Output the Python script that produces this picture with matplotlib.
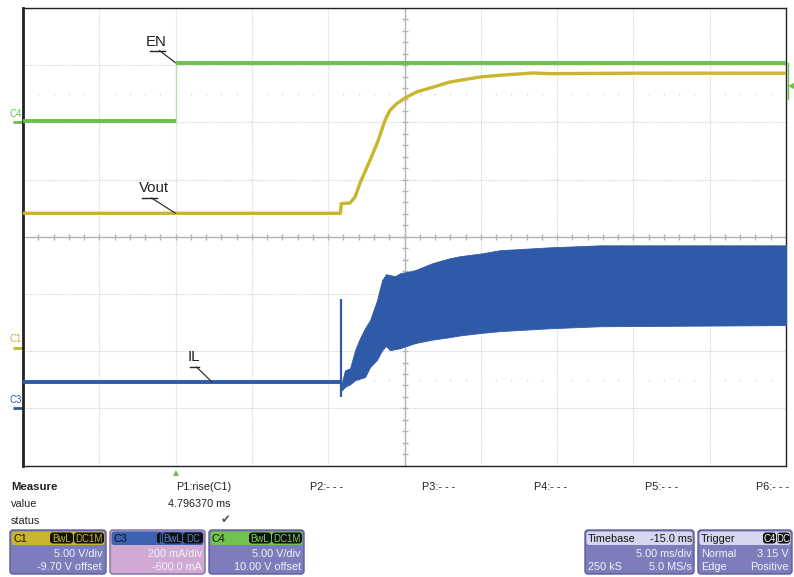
import numpy as np
import matplotlib
matplotlib.use("Agg")
import matplotlib.pyplot as plt
from matplotlib.patches import FancyBboxPatch
from matplotlib.transforms import blended_transform_factory

plt.rcParams['font.family'] = ['Liberation Sans', 'DejaVu Sans']

# channel settings (scale per div, offset) as shown on the scope
ms_per_div = 5.0
t_left = -10.0          # trigger sits 2 div from the left edge
c1_scale, c1_offset = 5.0, -9.70     # Vout  [V]
c3_scale, c3_offset = 0.2, -0.600    # IL    [A]
c4_scale, c4_offset = 5.0, 10.00     # EN    [V]
trig_level = 3.15

# EN (C4)
en_t = [-10, 0, 0, 40]
en_v = [0.1, 0.1, 5.2, 5.2]

# Vout (C1)
vout_t = [-10, 10.81, 10.85, 11.43, 11.76, 12.08, 12.74, 13.28, 13.72, 14.05,
          14.49, 15.14, 15.80, 16.89, 17.98, 19.95, 21.26, 23.42, 24.53, 30.0, 40.0]
vout_v = [11.75, 11.75, 12.60, 12.65, 13.18, 14.38, 16.39, 18.13, 19.88, 20.76,
          21.34, 21.92, 22.36, 22.79, 23.23, 23.67, 23.82, 24.02, 23.96, 24.0, 24.0]

# IL (C3): flat part, start-up spike, then switching ripple envelope
il_flat_t = [-10, 10.9]
il_flat_a = [0.091, 0.091]
il_spike_t = 10.81
il_spike_lo, il_spike_hi = 0.039, 0.381
il_env_t = [10.90, 11.10, 11.43, 11.76, 12.08, 12.41, 12.74, 13.20, 13.53, 13.79, 14.05,
            14.38, 14.70, 15.69, 16.80, 17.98, 18.64, 20.08, 21.26, 24.53, 27.81, 40.0]
il_hi = [0.091, 0.133, 0.140, 0.203, 0.245, 0.280, 0.308, 0.378, 0.448, 0.469, 0.466,
         0.462, 0.472, 0.483, 0.507, 0.525, 0.532, 0.542, 0.553, 0.563, 0.570, 0.570]
il_lo = [0.063, 0.075, 0.084, 0.098, 0.104, 0.109, 0.144, 0.170, 0.203, 0.218, 0.203,
         0.207, 0.210, 0.228, 0.240, 0.249, 0.255, 0.264, 0.270, 0.280, 0.287, 0.291]

GREEN = '#6cbf48'
YELLOW = '#c9b52e'
BLUE = '#2f5aa8'


def to_div(vals, scale, offset):
    return (np.asarray(vals, dtype=float) + offset) / scale


fig = plt.figure(figsize=(7.94, 5.77), dpi=100)
W, H = 794, 577
ax = fig.add_axes([23 / W, 1 - 465.5 / H, 763 / W, 457.5 / H])
ax.set_xlim(t_left, t_left + 10 * ms_per_div)
ax.set_ylim(-4, 4)
ax.set_xticks(np.arange(t_left, t_left + 10 * ms_per_div + 0.1, ms_per_div))
ax.set_yticks(np.arange(-4, 5, 1))
ax.tick_params(length=0, labelbottom=False, labelleft=False)
ax.grid(True, color='#cdcdcd', lw=0.8, ls=(0, (1, 1.2)))
for s in ax.spines.values():
    s.set_color('#222222')
    s.set_linewidth(1.0)
ax.spines['left'].set_linewidth(2)

# centre cross with sub-division ticks
t_mid = t_left + 5 * ms_per_div
ax.axhline(0, color='#b4b4b4', lw=1)
ax.axvline(t_mid, color='#b4b4b4', lw=1)
sub_t = np.arange(t_left, t_left + 10 * ms_per_div + 0.01, ms_per_div / 5)
sub_y = np.arange(-4, 4.01, 0.2)
ax.plot(sub_t, np.zeros_like(sub_t), '|', color='#b4b4b4', ms=4.5, mew=1)
ax.plot(np.full_like(sub_y, t_mid), sub_y, '_', color='#b4b4b4', ms=4.5, mew=1)
dots_t = sub_t[np.abs(np.round(sub_t / ms_per_div) * ms_per_div - sub_t) > 1e-6]
for yy in (2.5, -2.5):
    ax.plot(dots_t, np.full_like(dots_t, yy), 's', color='#cfcfcf', ms=1.0, mew=0)

# traces
vout_d = to_div(vout_v, c1_scale, c1_offset)
ax.plot(vout_t, vout_d, color=YELLOW, lw=2.4, solid_capstyle='butt', zorder=3)

en_d = to_div(en_v, c4_scale, c4_offset)
ax.plot(en_t[1:3], en_d[1:3], color='#b8e2a4', lw=1.0, zorder=4)
ax.plot(en_t[:2], en_d[:2], color=GREEN, lw=2.8, solid_capstyle='butt', zorder=4)
ax.plot(en_t[2:], en_d[2:], color=GREEN, lw=2.8, solid_capstyle='butt', zorder=4)

ax.plot(il_flat_t, to_div(il_flat_a, c3_scale, c3_offset), color=BLUE, lw=2.8,
        solid_capstyle='butt', zorder=3)
ax.vlines(il_spike_t, to_div(il_spike_lo, c3_scale, c3_offset),
          to_div(il_spike_hi, c3_scale, c3_offset), color=BLUE, lw=1.6, zorder=3)
ax.fill_between(il_env_t, to_div(il_lo, c3_scale, c3_offset),
                to_div(il_hi, c3_scale, c3_offset), color=BLUE, lw=0.6,
                edgecolor=BLUE, zorder=3)

# overlay in pixel coordinates for labels and the bottom panel
ov = fig.add_axes([0, 0, 1, 1], zorder=5)
ov.set_xlim(0, W)
ov.set_ylim(H, 0)
ov.axis('off')


# trace labels with leader lines
def tag(text, tx, ty, ux0, ux1, uy, xy):
    ov.text(tx, ty, text, fontsize=10.8, color='#222222', ha='center', va='center')
    ov.plot([ux0, ux1], [uy, uy], color='#222222', lw=1)
    ax.annotate('', xy=xy, xycoords='data', xytext=((ux0 + ux1) / 2 + 2, uy),
                textcoords=ov.transData, annotation_clip=False,
                arrowprops=dict(arrowstyle='-', color='#333333', lw=0.9,
                                shrinkA=0, shrinkB=0))


tag('EN', 156, 42, 150, 165, 50.5, (0, en_d[2]))
tag('Vout', 154, 188, 142, 157, 198, (0, vout_d[0]))
tag('IL', 194, 357, 190, 199, 367, (2.4, to_div(il_flat_a[0], c3_scale, c3_offset)))

# channel ground markers on the left, trigger level on the right
bl = blended_transform_factory(ov.transData, ax.transData)
for name, col, off, sc in (('C4', GREEN, c4_offset, c4_scale),
                           ('C1', YELLOW, c1_offset, c1_scale),
                           ('C3', BLUE, c3_offset, c3_scale)):
    y0 = off / sc
    ax.plot([13, 23], [y0, y0], color=col, lw=2, transform=bl, clip_on=False,
            solid_capstyle='butt')
    ax.text(16, y0 + 0.06, name, color=col, fontsize=7, ha='center',
            va='bottom', transform=bl)
ax.plot([790.5], [to_div(trig_level, c4_scale, c4_offset)], '<', color=GREEN,
        ms=5, mew=0, transform=bl, clip_on=False)
ax.plot([788, 788], [en_d[2], to_div(trig_level, c4_scale, c4_offset) - 0.22],
        color=GREEN, lw=1, transform=bl, clip_on=False)

# trigger position marker under the grid
ax.plot([0], [473], '^', color=GREEN, ms=5, mew=0,
        transform=blended_transform_factory(ax.transData, ov.transData),
        clip_on=False)

# measure table
fs = 7.8
ov.text(11, 487, 'Measure', fontsize=8.2, fontweight='bold', va='center', color='#222222')
ov.text(11, 504, 'value', fontsize=fs, va='center', color='#222222')
ov.text(11, 521, 'status', fontsize=fs, va='center', color='#222222')
ov.text(231, 487, 'P1:rise(C1)', fontsize=fs, va='center', ha='right', color='#222222')
ov.text(231, 504, '4.796370 ms', fontsize=fs, va='center', ha='right', color='#222222')
ov.text(226, 520, '\u2714', fontsize=8.5, va='center', ha='center', color='#555555',
        family=['DejaVu Sans'])
for lab, x in (('P2:- - -', 310), ('P3:- - -', 422), ('P4:- - -', 534),
               ('P5:- - -', 645), ('P6:- - -', 756)):
    ov.text(x, 487, lab, fontsize=fs, va='center', color='#222222')


def box(x0, x1, head_col, body_col, edge='#5c5c98'):
    ov.add_patch(FancyBboxPatch((x0, 530), x1 - x0, 44,
                                boxstyle='round,pad=0,rounding_size=3',
                                fc=body_col, ec=edge, lw=1))
    ov.add_patch(FancyBboxPatch((x0 + 1.5, 531.5), x1 - x0 - 3, 13.5,
                                boxstyle='round,pad=0,rounding_size=2.5',
                                fc=head_col, ec='none'))


def badge(x0, x1, text, col):
    ov.add_patch(FancyBboxPatch((x0, 532.5), x1 - x0, 11,
                                boxstyle='round,pad=0,rounding_size=3',
                                fc='#111111', ec='none'))
    ov.text((x0 + x1) / 2, 538.5, text, fontsize=7, color=col,
            ha='center', va='center')


BODY = '#7d7dbb'
WHITE = '#f2f2fa'
box(10, 106, YELLOW, BODY)
ov.text(13, 538.5, 'C1', fontsize=fs, va='center', color='#111111')
badge(50, 73, 'BwL', YELLOW)
badge(74, 104, 'DC1M', YELLOW)
ov.text(102, 554, '5.00 V/div', fontsize=fs, va='center', ha='right', color=WHITE)
ov.text(102, 567, '-9.70 V offset', fontsize=fs, va='center', ha='right', color=WHITE)

box(110, 205, '#3c62b2', '#d0aad2', edge='#7c6ca8')
ov.text(113, 538.5, 'C3', fontsize=fs, va='center', color='#111111')
badge(157, 162, '|', '#5a82d0')
badge(163, 182, 'BwL', '#5a82d0')
badge(183, 203, 'DC', '#5a82d0')
ov.text(202, 554, '200 mA/div', fontsize=fs, va='center', ha='right', color=WHITE)
ov.text(202, 567, '-600.0 mA', fontsize=fs, va='center', ha='right', color=WHITE)

box(209, 304, '#72c24e', BODY)
ov.text(212, 538.5, 'C4', fontsize=fs, va='center', color='#111111')
badge(249, 271, 'BwL', '#7ad058')
badge(272, 302, 'DC1M', '#7ad058')
ov.text(301, 554, '5.00 V/div', fontsize=fs, va='center', ha='right', color=WHITE)
ov.text(301, 567, '10.00 V offset', fontsize=fs, va='center', ha='right', color=WHITE)

LAV = '#d6d6f0'
box(585, 694, LAV, BODY)
ov.text(588, 538.5, 'Timebase', fontsize=fs, va='center', color='#111111')
ov.text(692, 538.5, '-15.0 ms', fontsize=fs, va='center', ha='right', color='#111111')
ov.text(692, 554, '5.00 ms/div', fontsize=fs, va='center', ha='right', color=WHITE)
ov.text(588, 567, '250 kS', fontsize=fs, va='center', color=WHITE)
ov.text(692, 567, '5.0 MS/s', fontsize=fs, va='center', ha='right', color=WHITE)

box(698, 792, LAV, BODY)
ov.text(701, 538.5, 'Trigger', fontsize=fs, va='center', color='#111111')
badge(763, 776, 'C4', '#ffffff')
badge(777, 790, 'DC', '#ffffff')
ov.text(701, 554, 'Normal', fontsize=fs, va='center', color=WHITE)
ov.text(789, 554, '3.15 V', fontsize=fs, va='center', ha='right', color=WHITE)
ov.text(701, 567, 'Edge', fontsize=fs, va='center', color=WHITE)
ov.text(789, 567, 'Positive', fontsize=fs, va='center', ha='right', color=WHITE)

fig.savefig('out.png', dpi=100)
